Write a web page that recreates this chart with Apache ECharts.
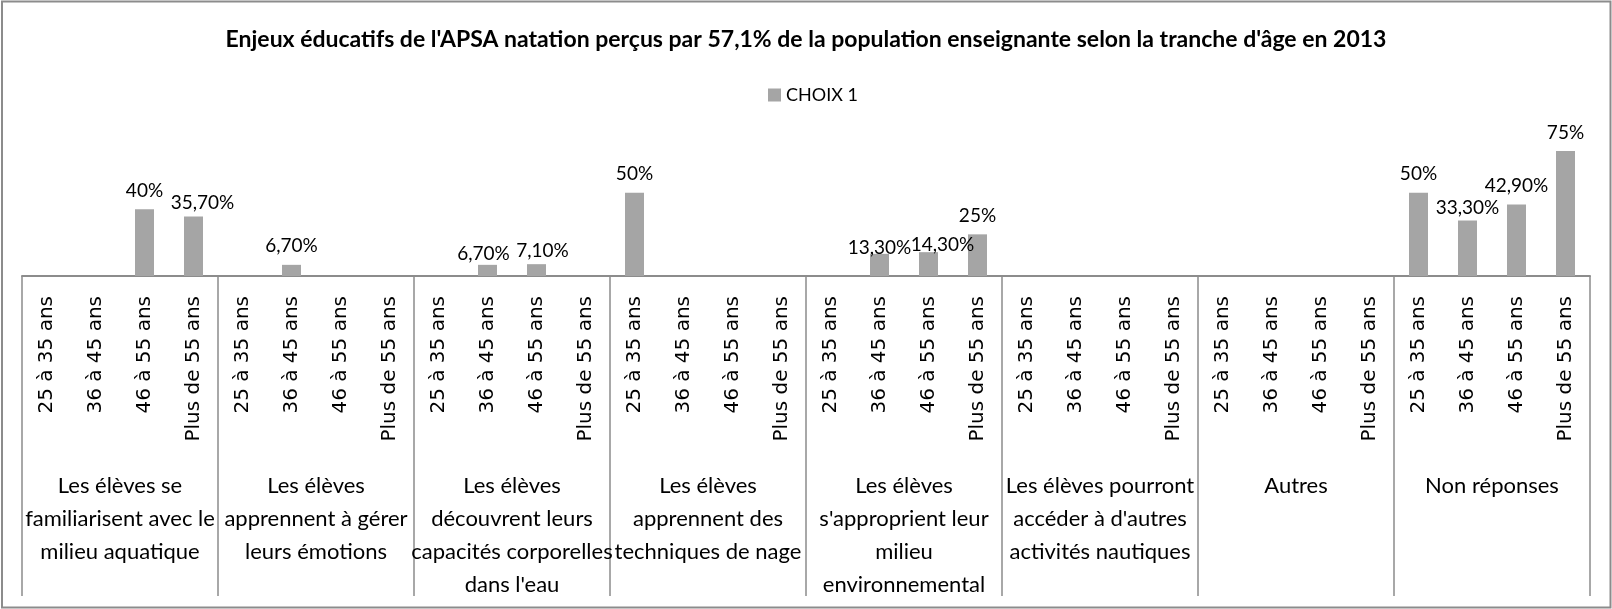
<!DOCTYPE html>
<html lang="fr">
<head>
<meta charset="utf-8">
<title>Enjeux éducatifs de l'APSA natation</title>
<script src="https://cdn.jsdelivr.net/npm/echarts@6/dist/echarts.min.js"></script>
<style>
  html, body { margin: 0; padding: 0; background: #fff; }
  #chart { width: 1612px; height: 609px; }
</style>
</head>
<body>
<div id="chart"></div>
<script>
// Tranches d'âge (répétées dans chaque enjeu)
const ageBands = ['25 à 35 ans', '36 à 45 ans', '46 à 55 ans', 'Plus de 55 ans'];

// Enjeux éducatifs (niveau supérieur de l'axe)
const issues = [
  'Les élèves se\nfamiliarisent avec le\nmilieu aquatique',
  'Les élèves\napprennent à gérer\nleurs émotions',
  'Les élèves\ndécouvrent leurs\ncapacités corporelles\ndans l\'eau',
  'Les élèves\napprennent des\ntechniques de nage',
  'Les élèves\ns\'approprient leur\nmilieu\nenvironnemental',
  'Les élèves pourront\naccéder à d\'autres\nactivités nautiques',
  'Autres',
  'Non réponses'
];

// CHOIX 1 (%) : une valeur par tranche d'âge, enjeu par enjeu
const familiarisation = [null, null, 40, 35.7];
const emotions        = [null, 6.7, null, null];
const capacites       = [null, 6.7, 7.1, null];
const techniques      = [50, null, null, null];
const environnement   = [null, 13.3, 14.3, 25];
const activites       = [null, null, null, null];
const autres          = [null, null, null, null];
const nonReponses     = [50, 33.3, 42.9, 75];

const seriesName = 'CHOIX 1';
const titleText = "Enjeux éducatifs de l'APSA natation perçus par 57,1% de la population enseignante selon la tranche d'âge en 2013";

const choix1 = [].concat(familiarisation, emotions, capacites, techniques,
                         environnement, activites, autres, nonReponses);
const ageCategories = [];
issues.forEach(() => ageBands.forEach(a => ageCategories.push(a)));

// Petits décalages de quelques étiquettes pour éviter les chevauchements
const labelNudge = { 3: [9, 5], 9: [-4, 8], 10: [6, 5], 17: [0, 13], 18: [14, 11], 29: [0, 6] };

const textFont = "Lato, 'Carlito', 'DejaVu Sans Condensed', sans-serif";
const axisGrey = '#8c8c8c';

const fmt = v => Number.isInteger(v) ? v + '%' : v.toFixed(2).replace('.', ',') + '%';

const barData = choix1.map((v, i) => {
  if (v === null) return null;
  const item = { value: v };
  if (labelNudge[i]) item.label = { offset: labelNudge[i] };
  return item;
});

const chart = echarts.init(document.getElementById('chart'), null, { renderer: 'canvas' });
chart.setOption({
  animation: false,
  backgroundColor: '#fff',
  title: {
    text: titleText,
    left: 'center',
    top: 26,
    padding: 0,
    textStyle: { fontFamily: textFont, fontWeight: 'bold', fontSize: 23, lineHeight: 27, color: '#000' }
  },
  legend: {
    data: [seriesName],
    left: 768,
    top: 86,
    padding: 0,
    icon: 'rect',
    itemWidth: 13,
    itemHeight: 13,
    itemGap: 5,
    textStyle: { fontFamily: textFont, fontSize: 18, color: '#000' }
  },
  grid: {
    left: 22, right: 22, top: 142.7, bottom: 333,
    containLabel: false,
    outerBoundsMode: 'none'
  },
  xAxis: [
    {
      type: 'category',
      position: 'bottom',
      data: ageCategories,
      axisLine: { show: true, lineStyle: { color: axisGrey, width: 2 } },
      axisTick: { show: false },
      axisLabel: {
        interval: 0,
        rotate: 90,
        margin: 20,
        fontFamily: "'DejaVu Sans', sans-serif",
        fontSize: 20,
        color: '#000'
      },
      splitLine: { show: false }
    },
    {
      type: 'category',
      position: 'bottom',
      data: issues,
      axisLine: { show: false },
      axisTick: { show: true, interval: 0, length: 320, lineStyle: { color: axisGrey, width: 1.5 } },
      axisLabel: {
        interval: 0,
        margin: 193,
        fontFamily: textFont,
        fontSize: 22,
        lineHeight: 33,
        color: '#000',
        align: 'center',
        verticalAlign: 'top'
      },
      splitLine: { show: false }
    }
  ],
  yAxis: {
    type: 'value',
    min: 0,
    max: 80,
    show: false,
    splitLine: { show: false }
  },
  graphic: [{
    type: 'rect',
    silent: true,
    shape: { x: 2, y: 1.5, width: 1608.5, height: 606 },
    style: { fill: null, stroke: axisGrey, lineWidth: 2 }
  }],
  series: [{
    name: seriesName,
    type: 'bar',
    xAxisIndex: 0,
    barWidth: 19,
    data: barData,
    itemStyle: { color: '#a5a5a5' },
    label: {
      show: true,
      position: 'top',
      distance: 9,
      fontFamily: textFont,
      fontSize: 19,
      color: '#000',
      formatter: p => fmt(p.value)
    }
  }]
});
</script>
</body>
</html>
